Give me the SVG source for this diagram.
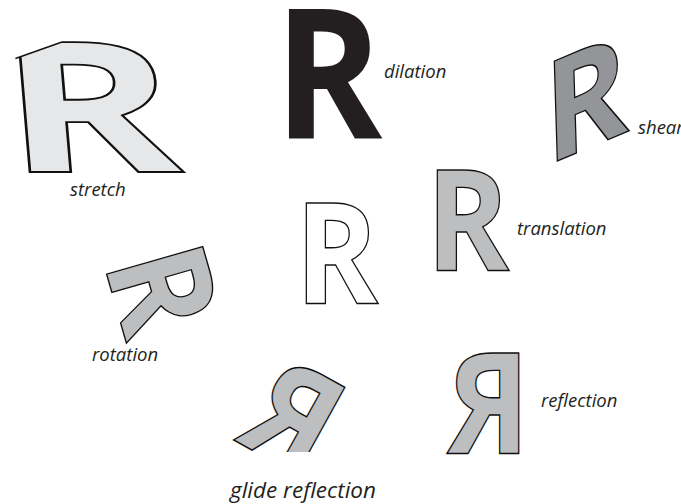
<svg xmlns="http://www.w3.org/2000/svg" xmlns:xlink="http://www.w3.org/1999/xlink" width="681" height="504" viewBox="0 0 681 504">
<style>
.g{font-family:"Open Sans","Liberation Sans",sans-serif;font-weight:700;font-size:140px}
.o{stroke:#111;stroke-width:1.4;stroke-linejoin:miter;vector-effect:non-scaling-stroke}
.lbl{font-family:"Open Sans","Liberation Sans",sans-serif;font-style:italic;font-size:18.5px;fill:#231f20}
</style>
<defs>
<text id="R" class="g" x="-10" y="0" transform="scale(0.9,1)">R</text>
<clipPath id="cutStretch"><polygon points="62,42 62,0 681,0 681,504 0,504 0,64"/></clipPath>
<clipPath id="cutGlide"><rect x="0" y="0" width="681" height="452"/></clipPath>
</defs>
<rect width="681" height="504" fill="#fff"/>
<g id="stretch">
<g clip-path="url(#cutStretch)">
<use xlink:href="#R" class="o" fill="#e6e7e8" transform="matrix(2.14,0,0.11,1.3,25,172)"/>
</g>
<line x1="15.4" y1="58.5" x2="62" y2="42" stroke="#111" stroke-width="1.4"/>
<text class="lbl" x="70" y="196">stretch</text>
</g>
<g id="dilation">
<use xlink:href="#R" fill="#231f20" transform="translate(286,139) scale(1.3)"/>
<text class="lbl" x="384" y="78">dilation</text>
</g>
<g id="shear">
<use xlink:href="#R" class="o" fill="#939598" transform="matrix(1,-0.42,0.03,1,555,162)"/>
<text class="lbl" x="638" y="134">shear</text>
</g>
<g id="original">
<use xlink:href="#R" class="o" fill="#fff" transform="translate(304,303)"/>
</g>
<g id="translation">
<use xlink:href="#R" class="o" fill="#bcbec0" transform="translate(435,270)"/>
<text class="lbl" x="517" y="235">translation</text>
</g>
<g id="rotation">
<use xlink:href="#R" class="o" fill="#bcbec0" transform="translate(106,272) rotate(74)"/>
<text class="lbl" x="92" y="361">rotation</text>
</g>
<g id="reflection">
<use xlink:href="#R" class="o" fill="#bcbec0" transform="translate(521,453) scale(-1,1)"/>
<text class="lbl" x="541" y="407">reflection</text>
</g>
<g id="glide-reflection">
<g clip-path="url(#cutGlide)">
<use xlink:href="#R" class="o" fill="#bcbec0" transform="translate(298.5,476) rotate(29) scale(-1,1)"/>
</g>
<text class="lbl" x="230" y="498" style="font-size:22.5px">glide reflection</text>
</g>
<g id="connectors"/>
</svg>
